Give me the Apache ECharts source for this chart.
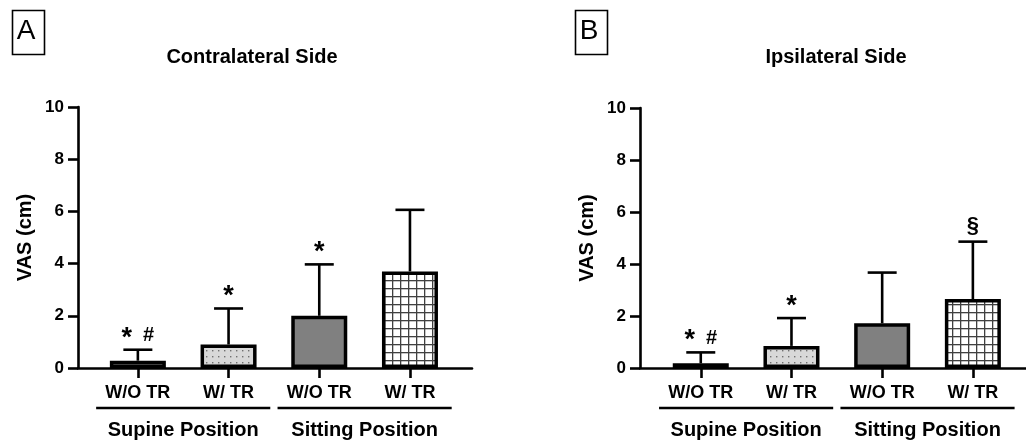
<!DOCTYPE html>
<html>
<head>
<meta charset="utf-8">
<script src="https://cdn.jsdelivr.net/npm/echarts@6/dist/echarts.min.js"></script>
<style>
html,body{margin:0;padding:0;background:#fff;}
#chart{width:1026px;height:445px;}
</style>
</head>
<body>
<div id="chart"></div>
<script>
// ---- data ----
const categories = ['W/O TR', 'W/ TR', 'W/O TR', 'W/ TR'];
const groupNames = ['Supine Position', 'Sitting Position'];
const groupSpans = [[0, 1], [2, 3]];
const yTicks = [0, 2, 4, 6, 8, 10];
const panelTitles = ['Contralateral Side', 'Ipsilateral Side'];
const panelLetters = ['A', 'B'];
const contraMean = [0.28, 0.9, 2.0, 3.7];
const contraSD = [0.42, 1.38, 1.97, 2.36];
const contraSig = ['* #', '*', '*', ''];
const ipsiMean = [0.18, 0.85, 1.72, 2.65];
const ipsiSD = [0.42, 1.07, 1.95, 2.21];
const ipsiSig = ['* #', '*', '', '§'];

const FONT = "'Liberation Sans', Arial, Helvetica, sans-serif";

function dotPattern() {
  const c = document.createElement('canvas'); c.width = 6; c.height = 6;
  const g = c.getContext('2d');
  g.fillStyle = '#d8d8d8'; g.fillRect(0, 0, 6, 6);
  g.fillStyle = '#707070'; g.fillRect(2, 2, 1.4, 1.4);
  return c;
}
function gridPattern() {
  const c = document.createElement('canvas'); c.width = 8; c.height = 8;
  const g = c.getContext('2d');
  g.fillStyle = '#ffffff'; g.fillRect(0, 0, 8, 8);
  g.fillStyle = '#404040'; g.fillRect(0, 0, 8, 1.3); g.fillRect(0, 0, 1.3, 8);
  return c;
}
const fills = [
  '#ffffff',
  { image: dotPattern(), repeat: 'repeat' },
  '#808080',
  { image: gridPattern(), repeat: 'repeat' }
];

const chart = echarts.init(document.getElementById('chart'), null, { renderer: 'canvas' });

const grids = [
  { left: 78, top: 107, width: 394, height: 261 },
  { left: 640, top: 108, width: 386, height: 260 }
];
const xMins = [-0.66, -0.67];
const pxPerCat = 90.7;

function xAxisFor(i) {
  const g = grids[i];
  return {
    type: 'value', gridIndex: i,
    min: xMins[i], max: xMins[i] + g.width / pxPerCat,
    axisLine: { show: true, onZero: false, lineStyle: { color: '#000', width: 2.6 } },
    axisTick: { show: true, customValues: [0, 1, 2, 3], length: 10, lineStyle: { color: '#000', width: 2.6 } },
    axisLabel: {
      show: true, customValues: [0, 1, 2, 3], margin: 16,
      formatter: v => categories[Math.round(v)],
      color: '#000', fontFamily: FONT, fontWeight: 'bold', fontSize: 18
    },
    splitLine: { show: false }
  };
}
function yAxisFor(i) {
  return {
    type: 'value', gridIndex: i, min: 0, max: 10, interval: 2,
    name: 'VAS (cm)', nameLocation: 'middle', nameGap: 43, nameRotate: 90,
    nameTextStyle: { color: '#000', fontFamily: FONT, fontWeight: 'bold', fontSize: 20 },
    axisLine: { show: true, onZero: false, lineStyle: { color: '#000', width: 2.6 } },
    axisTick: { show: true, length: 10, lineStyle: { color: '#000', width: 2.6 } },
    axisLabel: { color: '#000', fontFamily: FONT, fontWeight: 'bold', fontSize: 17, margin: 14,
      formatter: v => (yTicks.indexOf(v) >= 0 ? String(v) : '') },
    splitLine: { show: false }
  };
}

function barSeries(i, means) {
  return {
    type: 'bar', xAxisIndex: i, yAxisIndex: i, barWidth: 56, z: 2,
    data: means.map((m, k) => ({ value: [k, m], itemStyle: { color: fills[k] } })),
    itemStyle: { borderColor: '#000', borderWidth: 3.5 },
    silent: true, animation: false
  };
}
const sigRich = {
  a: { fontFamily: FONT, fontWeight: 'bold', fontSize: 27, padding: [13, 0, 0, 0] },
  g: { fontFamily: FONT, fontWeight: 'bold', fontSize: 20, padding: [8, 0, 0, 0] },
  s: { fontFamily: FONT, fontWeight: 'bold', fontSize: 22, padding: [4, 0, 0, 0] }
};
function sigText(t) {
  if (t === '* #') return '{a|*}{g|  #}';
  if (t === '*') return '{a|*}';
  return '{s|' + t + '}';
}
function errSeries(i, means, sds, sig) {
  return {
    type: 'custom', xAxisIndex: i, yAxisIndex: i, z: 3, silent: true, animation: false,
    encode: { x: 0, y: 1 },
    data: means.map((m, k) => [k, m, sds[k]]),
    renderItem: (params, api) => {
      const x = api.value(0), m = api.value(1), s = api.value(2);
      const p0 = api.coord([x, m]);
      const p1 = api.coord([x, m + s]);
      const half = 14.5;
      const ls = { stroke: '#000', lineWidth: 2.6 };
      const children = [
        { type: 'line', shape: { x1: p0[0], y1: p0[1], x2: p1[0], y2: p1[1] }, style: ls },
        { type: 'line', shape: { x1: p1[0] - half, y1: p1[1], x2: p1[0] + half, y2: p1[1] }, style: ls }
      ];
      const t = sig[params.dataIndex];
      if (t) {
        children.push({ type: 'text', x: p1[0], y: p1[1] - 18,
          style: { text: sigText(t), rich: sigRich, fill: '#000', align: 'center', verticalAlign: 'middle' } });
      }
      return { type: 'group', children };
    }
  };
}
function groupSeries(i) {
  return {
    type: 'custom', xAxisIndex: i, yAxisIndex: i, z: 3, silent: true, animation: false, clip: false,
    encode: { x: [0, 1], y: 2 },
    data: groupSpans.map(s => [s[0], s[1], 0]),
    renderItem: (params, api) => {
      const a = api.coord([api.value(0), 0]);
      const b = api.coord([api.value(1), 0]);
      const bw = api.size([1, 0])[0];
      const x1 = a[0] - 0.46 * bw, x2 = b[0] + 0.46 * bw;
      const y = a[1] + 40;
      return { type: 'group', children: [
        { type: 'line', shape: { x1, y1: y, x2, y2: y }, style: { stroke: '#000', lineWidth: 2.6 } },
        { type: 'text', x: (x1 + x2) / 2, y: y + 22,
          style: { text: groupNames[params.dataIndex], fill: '#000', font: 'bold 20px ' + FONT, align: 'center', verticalAlign: 'middle' } }
      ] };
    }
  };
}

const letterBoxes = [[10, 8], [573, 8]];
const titleCenters = [[252, 57], [836, 57]];
const graphics = [];
for (let i = 0; i < 2; i++) {
  graphics.push({ type: 'rect', left: letterBoxes[i][0], top: letterBoxes[i][1],
    shape: { width: 32, height: 44 }, style: { fill: 'none', stroke: '#000', lineWidth: 1.6 } });
  graphics.push({ type: 'text', x: letterBoxes[i][0] + 16, y: letterBoxes[i][1] + 23,
    style: { text: panelLetters[i], fill: '#000', font: '28px ' + FONT, align: 'center', verticalAlign: 'middle' } });
  graphics.push({ type: 'text', x: titleCenters[i][0], y: titleCenters[i][1],
    style: { text: panelTitles[i], fill: '#000', font: 'bold 20px ' + FONT, align: 'center', verticalAlign: 'middle' } });
}

chart.setOption({
  animation: false,
  backgroundColor: '#fff',
  grid: grids.map(g => Object.assign({ containLabel: false }, g)),
  xAxis: [xAxisFor(0), xAxisFor(1)],
  yAxis: [yAxisFor(0), yAxisFor(1)],
  graphic: graphics,
  series: [
    barSeries(0, contraMean), errSeries(0, contraMean, contraSD, contraSig), groupSeries(0),
    barSeries(1, ipsiMean), errSeries(1, ipsiMean, ipsiSD, ipsiSig), groupSeries(1)
  ]
});
</script>
</body>
</html>
